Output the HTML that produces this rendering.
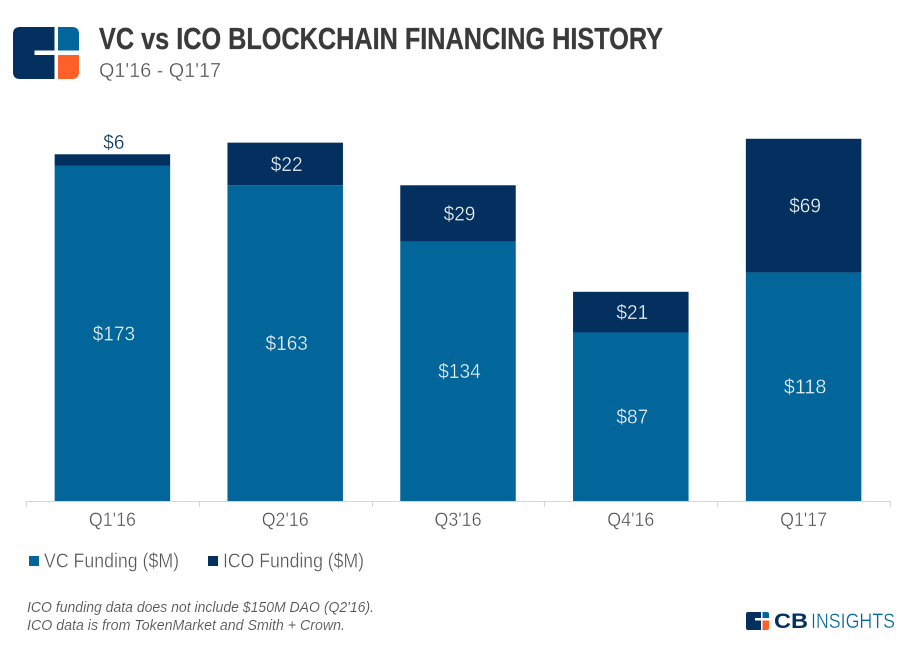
<!DOCTYPE html>
<html>
<head>
<meta charset="utf-8">
<style>
html,body{margin:0;padding:0;background:#fff;}
body{width:911px;height:661px;overflow:hidden;position:relative;}
svg{display:block;}
text{font-family:"Liberation Sans",sans-serif;}
.thin{stroke:#fff;stroke-width:.35px;}
.thin-small{stroke:#fff;stroke-width:.12px;}
</style>
</head>
<body>
<svg id="chart" width="911" height="661" viewBox="0 0 911 661" xmlns="http://www.w3.org/2000/svg">
  <g>
    <path d="M20 27H54.500V50.500H34.500V55H54.500V79H20Q13 79 13 72V34Q13 27 20 27Z" fill="#04305f"/>
    <path d="M58 27H72Q79 27 79 34V50.500H58Z" fill="#03669b"/>
    <path d="M58 55H79V72Q79 79 72 79H58Z" fill="#fd6029"/>
  </g>
  <text x="99" y="49" font-size="31" font-weight="700" fill="#3a3a3a" stroke="#3a3a3a" stroke-width=".3" textLength="564" lengthAdjust="spacingAndGlyphs">VC vs ICO BLOCKCHAIN FINANCING HISTORY</text>
  <text class="thin" x="99" y="77" font-size="20.5" fill="#555" textLength="122" lengthAdjust="spacingAndGlyphs">Q1'16 - Q1'17</text>

  <g id="bars"></g>
  <g id="axis"></g>

  <g>
    <rect x="29" y="556" width="10" height="10" fill="#03669b"/>
    <text class="thin" x="44" y="567.500" font-size="20" fill="#555" textLength="135" lengthAdjust="spacingAndGlyphs">VC Funding ($M)</text>
    <rect x="208" y="556" width="10" height="10" fill="#04305f"/>
    <text class="thin" x="223" y="567.500" font-size="20" fill="#555" textLength="141" lengthAdjust="spacingAndGlyphs">ICO Funding ($M)</text>
  </g>

  <text class="thin-small" x="27" y="612" font-size="14.500" font-style="italic" fill="#555" textLength="347" lengthAdjust="spacingAndGlyphs">ICO funding data does not include $150M DAO (Q2'16).</text>
  <text class="thin-small" x="27" y="630" font-size="14.500" font-style="italic" fill="#555" textLength="318" lengthAdjust="spacingAndGlyphs">ICO data is from TokenMarket and Smith + Crown.</text>

  <g>
    <path d="M748 612H761V618H755V620.500H761V630H748Q746 630 746 628V614Q746 612 748 612Z" fill="#04305f"/>
    <path d="M762.500 612H767Q769 612 769 614V618H762.500Z" fill="#03669b"/>
    <path d="M762.500 620.500H769V628Q769 630 767 630H762.500Z" fill="#fd6029"/>
    <text x="774" y="628" font-size="21" font-weight="700" fill="#04305f" textLength="34" lengthAdjust="spacingAndGlyphs">CB</text>
    <text class="thin" x="811" y="628" font-size="21" fill="#03669b" textLength="84" lengthAdjust="spacingAndGlyphs">INSIGHTS</text>
  </g>
</svg>
<script>
const categories = ["Q1'16", "Q2'16", "Q3'16", "Q4'16", "Q1'17"];
const vcFunding = [173, 163, 134, 87, 118];
const icoFunding = [6, 22, 29, 21, 69];

const NS = 'http://www.w3.org/2000/svg';
const plotLeft = 26, plotRight = 890, baseY = 501, unitPx = 1.937, barWidth = 115.5;
const bandWidth = (plotRight - plotLeft) / categories.length;
const xBand = i => plotLeft + bandWidth * i;
const xCenter = i => xBand(i) + bandWidth / 2;
const yScale = v => baseY - v * unitPx;
const labelOffsetX = 1.5;
const charWidth = 10.6;

function make(tag, attrs, parent, text) {
  const el = document.createElementNS(NS, tag);
  for (const k in attrs) el.setAttribute(k, attrs[k]);
  if (text !== undefined) el.textContent = text;
  parent.appendChild(el);
  return el;
}

const barsG = document.getElementById('bars');
const axisG = document.getElementById('axis');

categories.forEach((cat, i) => {
  const x = xCenter(i) - barWidth / 2;
  const vc = vcFunding[i], ico = icoFunding[i];
  const yVc = yScale(vc), yIco = yScale(vc + ico);

  const vcBar = make('rect', {x: x, y: yVc, width: barWidth, height: baseY - yVc, fill: '#03669b'}, barsG);
  
  

  const icoBar = make('rect', {x: x, y: yIco, width: barWidth, height: yVc - yIco, fill: '#04305f'}, barsG);
  
  

  const vcText = '$' + vc;
  const vcLabel = make('text', {x: xCenter(i) + labelOffsetX, y: (yVc + baseY) / 2 + 7, 'text-anchor': 'middle', 'font-size': 20.5, fill: '#eef3f7', stroke: '#03669b', 'stroke-width': 0.35, textLength: vcText.length * charWidth, lengthAdjust: 'spacingAndGlyphs'}, barsG, vcText);
  
  

  const outside = (yVc - yIco) < 24;
  const icoLabelY = outside ? yIco - 5.5 : (yIco + yVc) / 2 + 7;
  const icoText = '$' + ico;
  const icoLabel = make('text', {x: xCenter(i) + labelOffsetX, y: icoLabelY, 'text-anchor': 'middle', 'font-size': 20.5, fill: outside ? '#04305f' : '#eef3f7', stroke: outside ? '#fff' : '#04305f', 'stroke-width': 0.35, textLength: icoText.length * charWidth, lengthAdjust: 'spacingAndGlyphs'}, barsG, icoText);
  
  

  const catLabel = make('text', {x: xCenter(i), y: 526, 'text-anchor': 'middle', 'font-size': 19, fill: '#555', stroke: '#fff', 'stroke-width': 0.35, textLength: 47, lengthAdjust: 'spacingAndGlyphs'}, axisG, cat);
  
  
});

const axisLine = make('line', {x1: plotLeft, x2: plotRight, y1: baseY + 0.5, y2: baseY + 0.5, stroke: '#d6d6d6', 'stroke-width': 1}, axisG);



for (let i = 0; i <= categories.length; i++) {
  const tx = Math.round(xBand(i)) + 0.5;
  const tick = make('line', {x1: tx, x2: tx, y1: baseY, y2: baseY + 6, stroke: '#d6d6d6', 'stroke-width': 1}, axisG);
  
  
}
</script>
</body>
</html>
